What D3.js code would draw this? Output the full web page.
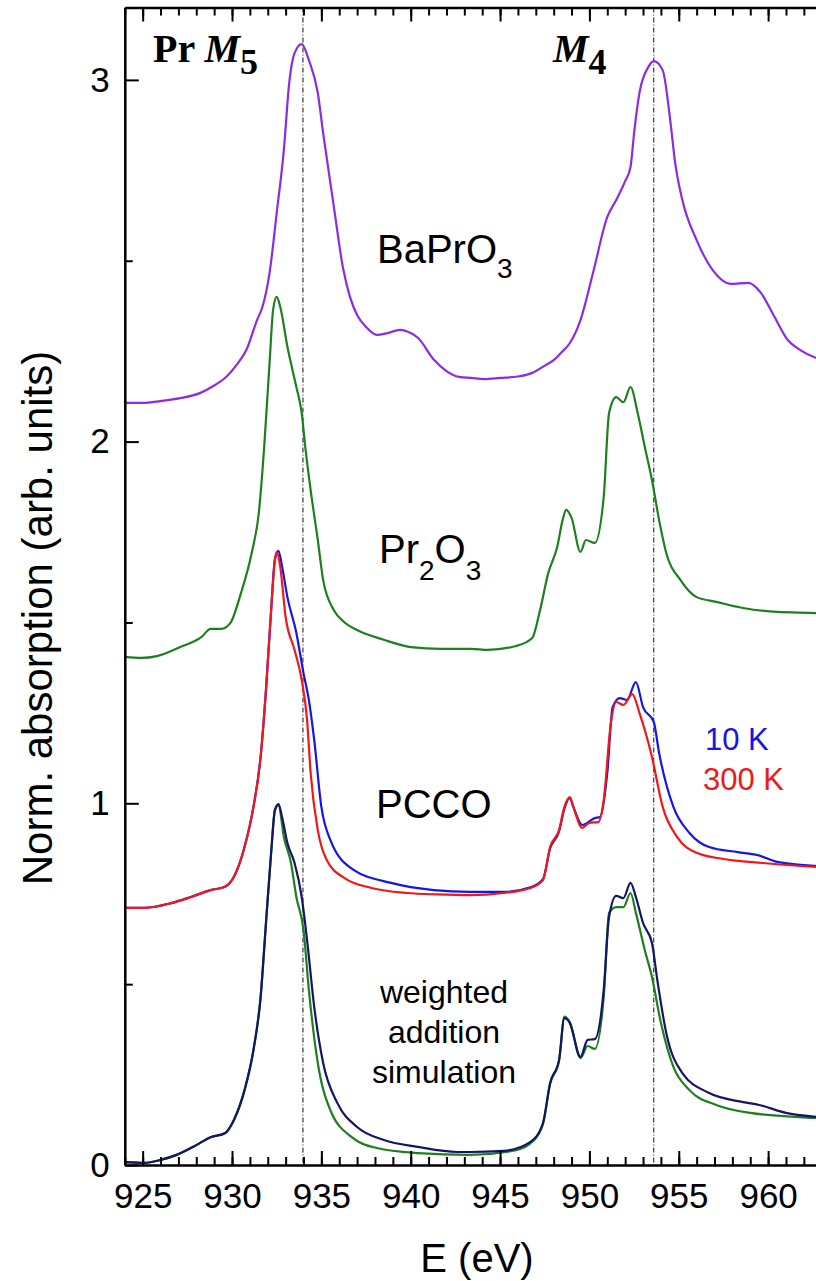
<!DOCTYPE HTML>
<html>
<head>
  <meta http-equiv="Content-Type" content="text/html; charset=UTF-8" />
  <script src="https://d3js.org/d3.v7.min.js"></script>
  <style>
    body { margin: 0; background: #fff; }
    svg { background-color: #fff; display: block; }
    text { font-family: "Liberation Sans", Arial, sans-serif; fill: #000; }
  </style>
</head>
<body>
<svg width="816" height="1281"></svg>
<script>
  // spectra: [energy (eV), normalised absorption]
  var baprO3 = [[924.0,2.107],[925.0,2.107],[926.0,2.112],[927.1,2.12],[928.2,2.134],[929.0,2.155],[929.7,2.18],
    [930.3,2.215],[930.8,2.253],[931.4,2.336],[931.7,2.372],[932.1,2.466],[932.5,2.632],[932.9,2.806],[933.2,2.991],
    [933.5,3.074],[933.9,3.099],[934.3,3.055],[934.8,2.964],[935.1,2.853],[935.7,2.649],[936.2,2.483],[936.6,2.40],
    [937.0,2.35],[937.5,2.317],[938.1,2.295],[938.7,2.300],[939.4,2.309],[940.0,2.300],[940.4,2.287],[941.3,2.226],
    [942.0,2.195],[942.7,2.179],[943.4,2.176],[944.1,2.173],[945.0,2.176],[946.0,2.180],[946.8,2.19],[947.5,2.21],
    [948.0,2.225],[948.4,2.245],[948.9,2.272],[949.5,2.336],[950.2,2.466],[951.0,2.621],[951.5,2.668],[952.0,2.72],
    [952.3,2.759],[952.5,2.853],[952.8,2.964],[953.3,3.036],[953.6,3.052],[954.1,3.027],[954.5,2.898],[954.8,2.770],
    [955.2,2.668],[956.0,2.557],[956.9,2.474],[957.9,2.436],[958.9,2.439],[959.6,2.411],[960.3,2.35],[961.1,2.281],
    [961.8,2.253],[962.7,2.231],[963.5,2.22]];

  var pr2O3 = [[924.0,1.405],[924.9,1.402],[925.8,1.407],[927.1,1.432],[928.3,1.460],[928.8,1.482],[929.4,1.482],
    [929.9,1.498],[930.5,1.581],[931.1,1.692],[931.5,1.803],[931.8,1.985],[932.1,2.217],[932.3,2.364],[932.5,2.400],
    [932.7,2.372],[933.1,2.262],[933.6,2.151],[933.9,2.079],[934.1,1.985],[934.4,1.866],[934.8,1.728],[935.1,1.617],
    [935.7,1.534],[936.3,1.50],[937.0,1.479],[938.5,1.452],[940.0,1.432],[941.7,1.427],[943.4,1.427],[944.3,1.424],
    [945.9,1.435],[946.8,1.457],[947.2,1.526],[947.7,1.637],[948.2,1.709],[948.5,1.783],[948.7,1.811],[949.0,1.789],
    [949.5,1.695],[949.8,1.728],[950.3,1.720],[950.8,1.847],[951.1,2.079],[951.5,2.123],[951.9,2.109],[952.3,2.151],
    [952.7,2.079],[953.1,1.985],[953.5,1.894],[953.9,1.783],[954.3,1.692],[955.1,1.617],[956.0,1.570],[957.1,1.557],
    [958.6,1.540],[960.5,1.529],[962.7,1.526],[963.5,1.524]];

  var pcco10K = [[924.0,0.711],[925.1,0.711],[926.6,0.724],[927.7,0.741],[928.8,0.760],[929.6,0.769],[930.1,0.796],
    [930.7,0.879],[931.2,0.990],[931.6,1.128],[931.9,1.313],[932.2,1.543],[932.4,1.675],[932.6,1.698],[932.8,1.655],
    [933.1,1.570],[933.6,1.471],[934.0,1.360],[934.3,1.286],[934.6,1.175],[935.0,0.990],[935.5,0.899],[936.8,0.816],
    [938.9,0.780],[941.3,0.760],[943.3,0.755],[945.2,0.755],[946.7,0.768],[947.4,0.790],[947.8,0.875],[948.3,0.922],
    [948.6,0.985],[948.9,1.015],[949.1,0.990],[949.6,0.940],[950.3,0.959],[950.6,0.962],[951.0,1.084],[951.3,1.266],
    [951.7,1.291],[952.1,1.286],[952.6,1.335],[953.0,1.266],[953.6,1.225],[953.9,1.139],[954.7,0.990],[955.6,0.918],
    [956.7,0.879],[958.3,0.865],[959.4,0.857],[960.5,0.838],[962.7,0.827],[963.5,0.825]];

  var pcco300K = [[924.0,0.711],[925.1,0.711],[926.6,0.724],[927.7,0.741],[928.8,0.760],[929.6,0.769],[930.1,0.796],
    [930.7,0.879],[931.2,0.990],[931.6,1.128],[931.9,1.313],[932.2,1.543],[932.4,1.673],[932.5,1.695],[932.7,1.653],
    [933.0,1.515],[933.5,1.424],[933.9,1.341],[934.2,1.230],[934.4,1.084],[934.8,0.926],[935.3,0.843],[936.3,0.793],
    [937.8,0.766],[939.8,0.752],[941.5,0.748],[943.3,0.746],[945.2,0.752],[946.7,0.766],[947.4,0.788],[947.8,0.879],
    [948.3,0.926],[948.6,0.990],[948.9,1.017],[949.1,0.990],[949.6,0.932],[950.0,0.946],[950.5,0.948],[950.8,1.009],
    [951.2,1.222],[951.5,1.280],[951.9,1.272],[952.4,1.302],[952.8,1.250],[953.5,1.128],[954.1,0.990],[954.9,0.907],
    [956.0,0.863],[957.5,0.846],[959.7,0.835],[962.7,0.824],[963.5,0.822]];

  var simExp = [[924.0,0.008],[925.1,0.006],[926.0,0.014],[926.9,0.028],[928.0,0.055],[928.8,0.077],[929.6,0.088],
    [930.1,0.124],[930.7,0.207],[931.2,0.318],[931.6,0.464],[931.9,0.669],[932.2,0.871],[932.4,0.981],[932.6,0.998],
    [932.8,0.962],[933.1,0.890],[933.5,0.835],[933.9,0.741],[934.2,0.622],[934.6,0.437],[935.1,0.282],[935.9,0.171],
    [937.0,0.105],[938.5,0.069],[940.4,0.050],[942.6,0.036],[943.3,0.036],[945.2,0.039],[946.7,0.064],[947.4,0.116],
    [947.8,0.227],[948.3,0.290],[948.6,0.406],[948.9,0.393],[949.5,0.299],[949.9,0.346],[950.3,0.348],[950.8,0.484],
    [951.1,0.686],[951.5,0.744],[951.9,0.738],[952.3,0.780],[952.6,0.741],[953.0,0.669],[953.5,0.614],[953.8,0.511],
    [954.3,0.365],[955.2,0.254],[956.7,0.199],[958.6,0.174],[959.5,0.166],[961.0,0.144],[962.7,0.133],[963.5,0.130]];

  var simCalc = [[924.0,0.008],[925.1,0.006],[926.0,0.014],[926.9,0.028],[928.0,0.055],[928.8,0.077],[929.6,0.088],
    [930.1,0.124],[930.7,0.207],[931.2,0.318],[931.6,0.464],[931.9,0.669],[932.2,0.871],[932.4,0.981],[932.6,0.995],
    [932.9,0.907],[933.3,0.835],[933.6,0.741],[934.0,0.650],[934.3,0.484],[934.8,0.282],[935.5,0.152],[936.7,0.077],
    [938.1,0.047],[940.4,0.033],[943.3,0.028],[945.9,0.041],[946.8,0.064],[947.4,0.113],[947.8,0.224],[948.3,0.288],
    [948.6,0.410],[948.9,0.395],[949.5,0.296],[949.9,0.329],[950.3,0.321],[950.8,0.464],[951.1,0.697],[951.5,0.713],
    [951.9,0.713],[952.3,0.752],[952.6,0.697],[953.1,0.594],[953.5,0.520],[954.0,0.393],[954.7,0.271],[955.6,0.207],
    [957.1,0.166],[959.0,0.144],[962.7,0.130],[963.5,0.128]];

  var xTickLabels = [925, 930, 935, 940, 945, 950, 955, 960];
  var yTickLabels = [0, 1, 2, 3];
  var edgeLines = [933.97, 953.6];   // M5 / M4 reference energies

  var svg = d3.select("svg");

  var x = d3.scaleLinear().domain([924, 966]).range([124.8, 124.8 + 42 * 17.87]);
  var y = d3.scaleLinear().domain([0, 3.2]).range([1165, 1165 - 3.2 * 361.7]);

  var line = d3.line()
    .x(function(d) { return x(d[0]); })
    .y(function(d) { return y(d[1]); })
    .curve(d3.curveMonotoneX);

  // dash-dot guide lines
  svg.selectAll(".edge").data(edgeLines).enter().append("line")
    .attr("x1", function(d) { return x(d); }).attr("x2", function(d) { return x(d); })
    .attr("y1", y(3.2)).attr("y2", y(0))
    .attr("stroke", "#111").attr("stroke-width", 1)
    .attr("stroke-dasharray", "5,2,1,2");

  var series = [
    { data: baprO3, color: "#8b2be8" },
    { data: pr2O3, color: "#1f7f1f" },
    { data: pcco10K, color: "#1515e6" },
    { data: pcco300K, color: "#f01818" },
    { data: simCalc, color: "#1f7f1f" },
    { data: simExp, color: "#141469" }
  ];

  svg.selectAll(".spec").data(series).enter().append("path")
    .attr("d", function(d) { return line(d.data); })
    .attr("fill", "none")
    .attr("stroke", function(d) { return d.color; })
    .attr("stroke-width", 2.2)
    .attr("stroke-linejoin", "round");

  // axes, ticks pointing inward
  function styleAxis(g) {
    g.selectAll(".domain").attr("stroke-width", 2.5);
    g.selectAll(".tick line").attr("stroke-width", 2);
  }

  var xMinor = d3.range(924, 966, 1);

  var bottomAxis = svg.append("g").attr("transform", "translate(0," + y(0) + ")")
    .call(d3.axisBottom(x).tickValues(xMinor).tickSizeInner(-8).tickSizeOuter(0).tickFormat(""));
  styleAxis(bottomAxis);
  var bottomMajor = svg.append("g").attr("transform", "translate(0," + y(0) + ")")
    .call(d3.axisBottom(x).tickValues(xTickLabels).tickSizeInner(-14).tickSizeOuter(0).tickPadding(18).tickFormat(d3.format("d")));
  styleAxis(bottomMajor);
  bottomMajor.select(".domain").remove();
  bottomMajor.selectAll("text").style("font-size", "35px").style("font-family", "Liberation Sans");

  var topAxis = svg.append("g").attr("transform", "translate(0," + y(3.2) + ")")
    .call(d3.axisTop(x).tickValues(xMinor).tickSizeInner(-8).tickSizeOuter(0).tickFormat(""));
  styleAxis(topAxis);
  var topMajor = svg.append("g").attr("transform", "translate(0," + y(3.2) + ")")
    .call(d3.axisTop(x).tickValues(xTickLabels).tickSizeInner(-14).tickSizeOuter(0).tickFormat(""));
  styleAxis(topMajor);
  topMajor.select(".domain").remove();

  var leftAxis = svg.append("g").attr("transform", "translate(" + x(924) + ",0)")
    .call(d3.axisLeft(y).tickValues([0.5, 1.5, 2.5]).tickSizeInner(-8).tickSizeOuter(0).tickFormat(""));
  styleAxis(leftAxis);
  var leftMajor = svg.append("g").attr("transform", "translate(" + x(924) + ",0)")
    .call(d3.axisLeft(y).tickValues(yTickLabels).tickSizeInner(-14).tickSizeOuter(0).tickPadding(15).tickFormat(d3.format("d")));
  styleAxis(leftMajor);
  leftMajor.select(".domain").remove();
  leftMajor.selectAll("text").style("font-size", "35px").style("font-family", "Liberation Sans");

  // axis titles
  svg.append("text").attr("x", 477).attr("y", 1272).attr("text-anchor", "middle")
    .style("font-size", "40px").text("E (eV)");
  svg.append("text").attr("transform", "translate(52,618) rotate(-90)").attr("text-anchor", "middle")
    .style("font-size", "42px").text("Norm. absorption (arb. units)");

  // edge labels (bold serif)
  var m5 = svg.append("text").attr("x", 153).attr("y", 62)
    .style("font-family", "Liberation Serif").style("font-weight", "bold").style("font-size", "40px");
  m5.append("tspan").text("Pr ");
  m5.append("tspan").style("font-style", "italic").text("M");
  m5.append("tspan").attr("dy", 12).style("font-size", "36px").text("5");

  var m4 = svg.append("text").attr("x", 553).attr("y", 62)
    .style("font-family", "Liberation Serif").style("font-weight", "bold").style("font-size", "40px");
  m4.append("tspan").style("font-style", "italic").text("M");
  m4.append("tspan").attr("dy", 12).style("font-size", "36px").text("4");

  // sample labels
  var b = svg.append("text").attr("x", 377).attr("y", 263).style("font-size", "40px");
  b.append("tspan").text("BaPrO");
  b.append("tspan").attr("dy", 15).style("font-size", "28px").text("3");

  var p = svg.append("text").attr("x", 379).attr("y", 563).style("font-size", "40px");
  p.append("tspan").text("Pr");
  p.append("tspan").attr("dy", 17).style("font-size", "28px").text("2");
  p.append("tspan").attr("dy", -17).text("O");
  p.append("tspan").attr("dy", 17).style("font-size", "28px").text("3");

  svg.append("text").attr("x", 376).attr("y", 818).style("font-size", "40px").text("PCCO");

  var simLines = ["weighted", "addition", "simulation"];
  svg.selectAll(".sim").data(simLines).enter().append("text")
    .attr("x", 444).attr("y", function(d, i) { return 1003 + i * 40; })
    .attr("text-anchor", "middle").style("font-size", "32px")
    .text(function(d) { return d; });

  svg.append("text").attr("x", 705).attr("y", 750).style("font-size", "31px").style("fill", "#1515e6").text("10 K");
  svg.append("text").attr("x", 703).attr("y", 790).style("font-size", "31px").style("fill", "#f01818").text("300 K");
</script>
</body>
</html>
